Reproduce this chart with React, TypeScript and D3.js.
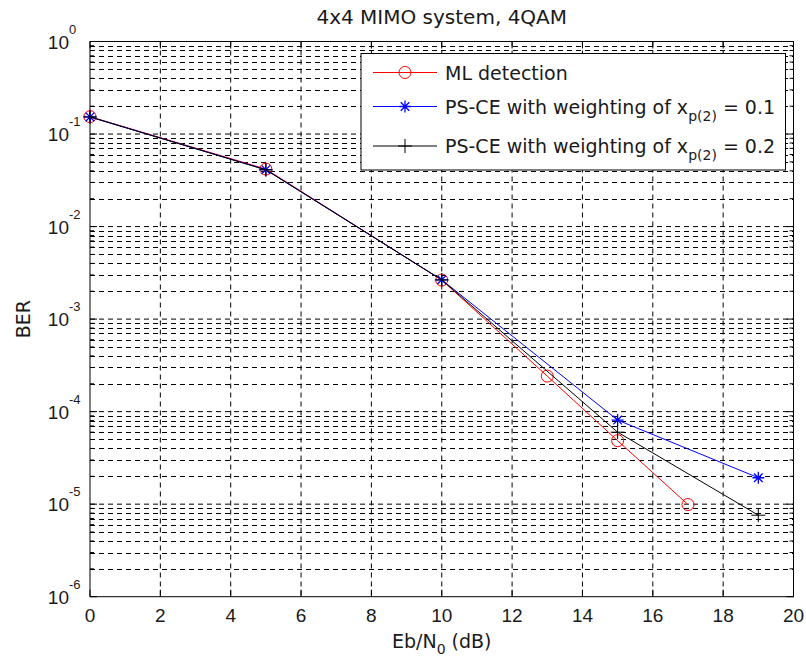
import React from "react";
import * as d3 from "d3";

const snrML = [0, 5, 10, 13, 15, 17];
const berML = [0.154, 0.0418, 0.00264, 2.42e-4, 4.85e-5, 9.9e-6];
const snrP1 = [0, 5, 10, 15, 19];
const berP1 = [0.153, 0.0412, 0.00266, 8.1e-5, 1.93e-5];
const snrP2 = [0, 5, 10, 15, 19];
const berP2 = [0.153, 0.041, 0.00265, 6.0e-5, 7.6e-6];
const xTicks = [0, 2, 4, 6, 8, 10, 12, 14, 16, 18, 20];
const yExps = [0, -1, -2, -3, -4, -5, -6];

const W = 806, H = 664;
const L = 90, R = 793.5, T = 41.5, B = 596.7;
const FONT = "'DejaVu Sans', sans-serif";
const TFONT = "'Liberation Sans', Arial, sans-serif";

export default function App() {
  const x = d3.scaleLinear().domain([0, 20]).range([L, R]);
  const y = d3.scaleLog().domain([1e-6, 1]).range([B, T]);
  const minor: number[] = [];
  for (let e = -6; e < 0; e++) for (let m = 2; m <= 9; m++) minor.push(m * Math.pow(10, e));
  const line = d3.line<[number, number]>().x(d => x(d[0])).y(d => y(d[1]));
  const series = [
    { xs: snrML, ys: berML, color: "#ff0000", marker: "o" },
    { xs: snrP1, ys: berP1, color: "#0000ff", marker: "*" },
    { xs: snrP2, ys: berP2, color: "#000000", marker: "+" },
  ];
  const marker = (m: string, cx: number, cy: number, c: string, k: string) => {
    if (m === "o") return <circle key={k} cx={cx} cy={cy} r={6} fill="none" stroke={c} strokeWidth={1} />;
    if (m === "+") return <path key={k} d={`M${cx - 7},${cy}H${cx + 7}M${cx},${cy - 7}V${cy + 7}`} stroke={c} strokeWidth={1} />;
    const s = 6, d = 4.3;
    return <path key={k} d={`M${cx - s},${cy}H${cx + s}M${cx},${cy - s}V${cy + s}M${cx - d},${cy - d}L${cx + d},${cy + d}M${cx - d},${cy + d}L${cx + d},${cy - d}`} stroke={c} strokeWidth={1.3} />;
  };
  const dash = "5,4";
  const legendRows = [
    { label: "ML detection", sub: null as string | null, tail: "", cy: 72.5, color: "#ff0000", m: "o" },
    { label: "PS-CE with weighting of x", sub: "p(2)", tail: " = 0.1", cy: 106.5, color: "#0000ff", m: "*" },
    { label: "PS-CE with weighting of x", sub: "p(2)", tail: " = 0.2", cy: 146, color: "#000000", m: "+" },
  ];
  return (
    <svg width={W} height={H} style={{ position: "absolute", left: 0, top: 0, background: "#fff" }}>
      <rect x={0} y={0} width={W} height={H} fill="#fff" />
      {xTicks.filter(t => t > 0 && t < 20).map(t => (
        <line key={"gx" + t} x1={x(t)} x2={x(t)} y1={T} y2={B} stroke="#000" strokeDasharray={dash} strokeWidth={1} />
      ))}
      {yExps.filter(e => e < 0 && e > -6).map(e => (
        <line key={"gy" + e} x1={L} x2={R} y1={y(Math.pow(10, e))} y2={y(Math.pow(10, e))} stroke="#000" strokeDasharray={dash} strokeWidth={1} />
      ))}
      {minor.map((v, i) => (
        <line key={"gm" + i} x1={L} x2={R} y1={Math.round(y(v)) + 0.5} y2={Math.round(y(v)) + 0.5} stroke="#000" strokeDasharray={dash} strokeWidth={1} />
      ))}
      {xTicks.map(t => (
        <g key={"tx" + t}>
          <line x1={x(t)} x2={x(t)} y1={B} y2={B - 7} stroke="#000" />
          <line x1={x(t)} x2={x(t)} y1={T} y2={T + 7} stroke="#000" />
          <text x={x(t)} y={621.5} textAnchor="middle" fontFamily={TFONT} fontSize={19} fill="#1a1a1a">{t}</text>
        </g>
      ))}
      {yExps.map(e => {
        const yy = y(Math.pow(10, e));
        return (
          <g key={"ty" + e}>
            <line x1={L} x2={L + 7} y1={yy} y2={yy} stroke="#000" />
            <line x1={R} x2={R - 7} y1={yy} y2={yy} stroke="#000" />
            <text x={69} y={yy + 7} textAnchor="end" fontFamily={TFONT} fontSize={19} fill="#1a1a1a">10</text>
            <text x={69} y={yy - 8} textAnchor="start" fontFamily={TFONT} fontSize={13} fill="#1a1a1a">{e === 0 ? "0" : "-" + Math.abs(e)}</text>
          </g>
        );
      })}
      {minor.map((v, i) => (
        <g key={"mt" + i}>
          <line x1={L} x2={L + 4} y1={y(v)} y2={y(v)} stroke="#000" />
          <line x1={R} x2={R - 4} y1={y(v)} y2={y(v)} stroke="#000" />
        </g>
      ))}
      <rect x={L} y={T} width={R - L} height={B - T} fill="none" stroke="#000" strokeWidth={1} />
      {series.map((s, i) => {
        const pts = s.xs.map((v, j) => [v, s.ys[j]] as [number, number]);
        return (
          <g key={"s" + i}>
            <path d={line(pts) || ""} fill="none" stroke={s.color} strokeWidth={1} />
            {pts.map((p, j) => marker(s.marker, x(p[0]), y(p[1]), s.color, "m" + i + j))}
          </g>
        );
      })}
      <rect x={361} y={53.5} width={424.5} height={116.5} fill="#fff" stroke="#000" strokeWidth={1} />
      {legendRows.map((r, i) => (
        <g key={"lg" + i}>
          <line x1={373} x2={437} y1={r.cy} y2={r.cy} stroke={r.color} strokeWidth={1} />
          {marker(r.m, 405, r.cy, r.color, "lm" + i)}
          <text x={445} y={r.cy + 7} fontFamily={FONT} fontSize={19} fill="#1a1a1a">
            {r.label}
            {r.sub && <tspan fontSize={14} dy={7}>{r.sub}</tspan>}
            {r.sub && <tspan fontSize={19} dy={-7}>{r.tail}</tspan>}
          </text>
        </g>
      ))}
      <text x={(L + R) / 2} y={24} textAnchor="middle" fontFamily={FONT} fontSize={20} fill="#1a1a1a">4x4 MIMO system, 4QAM</text>
      <text x={(L + R) / 2} y={648} textAnchor="middle" fontFamily={FONT} fontSize={19} fill="#1a1a1a">
        Eb/N<tspan fontSize={14} dy={6}>0</tspan><tspan fontSize={19} dy={-6}> (dB)</tspan>
      </text>
      <text transform={`translate(30,${(T + B) / 2}) rotate(-90)`} textAnchor="middle" fontFamily={FONT} fontSize={19} fill="#1a1a1a">BER</text>
    </svg>
  );
}
